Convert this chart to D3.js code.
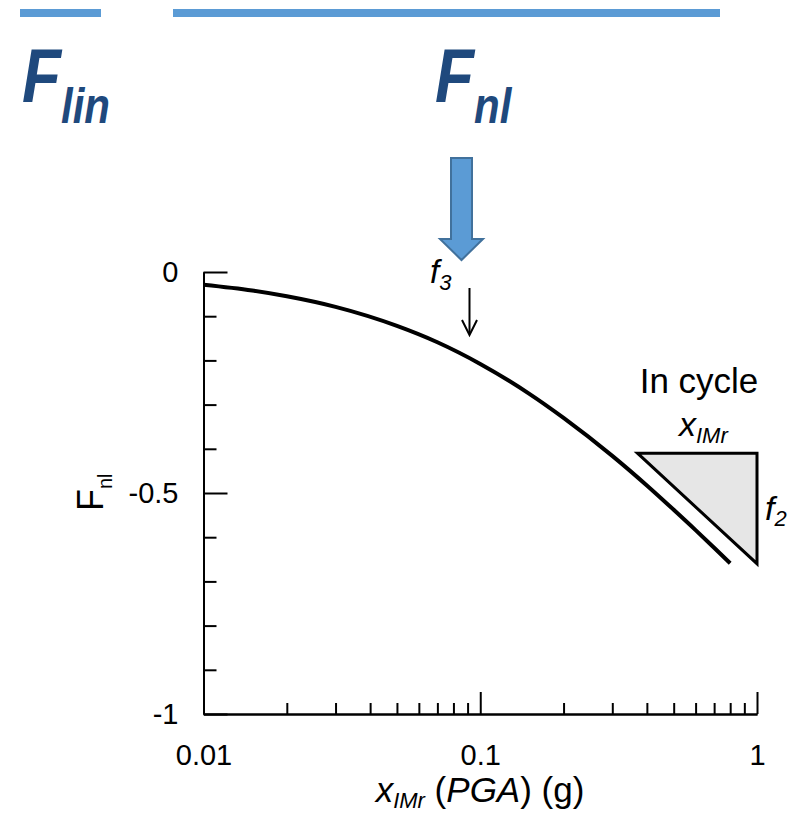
<!DOCTYPE html>
<html>
<head>
<meta charset="utf-8">
<script src="https://cdn.jsdelivr.net/npm/d3@7"></script>
<style>
  body { margin: 0; background: #fff; }
  text { font-family: "Liberation Sans", Arial, sans-serif; }
  .axis path, .axis line { stroke: #000; stroke-width: 2px; }
  .axis text { font-size: 29px; fill: #000; }
</style>
</head>
<body>
<div id="graph"></div>
<script>
const width = 797;
const height = 814;

// curve
var pgaX = [0.01, 0.015, 0.02, 0.03, 0.05, 0.07, 0.1, 0.15, 0.2, 0.3, 0.4, 0.5, 0.6, 0.7, 0.8];
var fnlY = [-0.029, -0.042, -0.055, -0.079, -0.122, -0.159, -0.208, -0.275, -0.330, -0.416, -0.483, -0.538, -0.584, -0.624, -0.659];

// slope triangle
var triX = [0.37, 1];
var triY = [-0.41, -0.66];

var xMajor = [0.01, 0.1, 1];
var xMinor = [0.02, 0.03, 0.04, 0.05, 0.06, 0.07, 0.08, 0.09, 0.2, 0.3, 0.4, 0.5, 0.6, 0.7, 0.8, 0.9];
var xLabels = ["0.01", "0.1", "1"];
var yMajor = [0, -0.5, -1];
var yMinor = [-0.1, -0.2, -0.3, -0.4, -0.6, -0.7, -0.8, -0.9];
var yLabels = ["0", "-0.5", "-1"];

var svg = d3.select("#graph").append("svg")
    .attr("width", width).attr("height", height);

var x = d3.scaleLog().domain([0.01, 1]).range([203.5, 757]);
var y = d3.scaleLinear().domain([-1, 0]).range([714, 272]);

// top header bars
var blue = "#5b9bd5";
svg.append("line").attr("x1", 20).attr("x2", 101).attr("y1", 13).attr("y2", 13)
    .attr("stroke", blue).attr("stroke-width", 8);
svg.append("line").attr("x1", 173).attr("x2", 720).attr("y1", 13).attr("y2", 13)
    .attr("stroke", blue).attr("stroke-width", 8);

// big titles (narrowed like the original face)
var titles = [{t: "F", s: "lin", x: 22}, {t: "F", s: "nl", x: 435}];
titles.forEach(function (d) {
    var tx = svg.append("text")
        .attr("transform", "translate(" + d.x + ",102) scale(0.84,1)")
        .attr("fill", "#1f497d")
        .style("font-weight", "bold").style("font-style", "italic")
        .style("font-size", "76px");
    tx.append("tspan").text(d.t);
    tx.append("tspan").attr("dy", 21).style("font-size", "50px").text(d.s);
});

// blue arrow
var ax = 461.5;
svg.append("path")
    .attr("d", "M" + (ax - 10.5) + ",158 L" + (ax + 10.5) + ",158 L" + (ax + 10.5) + ",239 L" + (ax + 21.5) + ",239 L" + ax + ",260 L" + (ax - 21.5) + ",239 L" + (ax - 10.5) + ",239 Z")
    .attr("fill", blue).attr("stroke", "#41719c").attr("stroke-width", 2);

// axes
var gx = svg.append("g").attr("class", "axis").attr("transform", "translate(0,714)");
gx.call(d3.axisBottom(x).tickValues(xMinor).tickSizeInner(-11).tickSizeOuter(0).tickFormat(""));
var gx2 = svg.append("g").attr("class", "axis").attr("transform", "translate(0,714)");
gx2.call(d3.axisBottom(x).tickValues(xMajor).tickSizeInner(-22).tickSizeOuter(0).tickPadding(30)
    .tickFormat(function (d, i) { return xLabels[i]; }));

var gy = svg.append("g").attr("class", "axis").attr("transform", "translate(203.5,0)");
gy.call(d3.axisLeft(y).tickValues(yMinor).tickSizeInner(-13).tickSizeOuter(0).tickFormat(""));
var gy2 = svg.append("g").attr("class", "axis").attr("transform", "translate(203.5,0)");
gy2.call(d3.axisLeft(y).tickValues(yMajor).tickSizeInner(-24).tickSizeOuter(0).tickPadding(25)
    .tickFormat(function (d, i) { return yLabels[i]; }));
svg.selectAll(".axis .domain").attr("fill", "none");

// curve
var line = d3.line()
    .x(function (d) { return x(d[0]); })
    .y(function (d) { return y(d[1]); })
    .curve(d3.curveMonotoneX);
svg.append("path")
    .datum(d3.zip(pgaX, fnlY))
    .attr("d", line)
    .attr("fill", "none").attr("stroke", "#000").attr("stroke-width", 4);

// triangle
svg.append("path")
    .attr("d", "M" + x(triX[0]) + "," + y(triY[0]) + " L" + x(triX[1]) + "," + y(triY[0]) + " L" + x(triX[1]) + "," + y(triY[1]) + " Z")
    .attr("fill", "#e6e6e6").attr("stroke", "#000").attr("stroke-width", 3)
    .attr("stroke-linejoin", "miter");

svg.append("text").attr("x", 699).attr("y", 393).attr("text-anchor", "middle")
    .style("font-size", "35px").text("In cycle");

var tIm = svg.append("text").attr("x", 679).attr("y", 436).style("font-size", "34px").style("font-style", "italic");
tIm.append("tspan").text("x");
tIm.append("tspan").attr("dy", 7).style("font-size", "22px").text("IMr");

var tf2 = svg.append("text").attr("x", 765).attr("y", 520).style("font-size", "34px").style("font-style", "italic");
tf2.append("tspan").text("f");
tf2.append("tspan").attr("dy", 6).style("font-size", "22px").text("2");

var tf3 = svg.append("text").attr("x", 430).attr("y", 283).style("font-size", "33px").style("font-style", "italic");
tf3.append("tspan").text("f");
tf3.append("tspan").attr("dy", 7).style("font-size", "22px").text("3");

// small arrow
svg.append("line").attr("x1", 469.5).attr("x2", 469.5).attr("y1", 288).attr("y2", 334)
    .attr("stroke", "#000").attr("stroke-width", 2);
svg.append("path").attr("d", "M462,320 L469.5,335 L477,320")
    .attr("fill", "none").attr("stroke", "#000").attr("stroke-width", 2);

// axis titles
var xl = svg.append("text").attr("x", 480).attr("y", 802).attr("text-anchor", "middle").style("font-size", "35px");
xl.append("tspan").style("font-style", "italic").text("x");
xl.append("tspan").attr("dy", 6).style("font-style", "italic").style("font-size", "22px").text("IMr");
xl.append("tspan").attr("dy", -6).text(" (");
xl.append("tspan").style("font-style", "italic").text("PGA");
xl.append("tspan").text(") (g)");

var yl = svg.append("text").attr("transform", "translate(103,511) rotate(-90)").style("font-size", "36px");
yl.append("tspan").text("F");
yl.append("tspan").attr("dy", 9).style("font-size", "20px").text("nl");
</script>
</body>
</html>
